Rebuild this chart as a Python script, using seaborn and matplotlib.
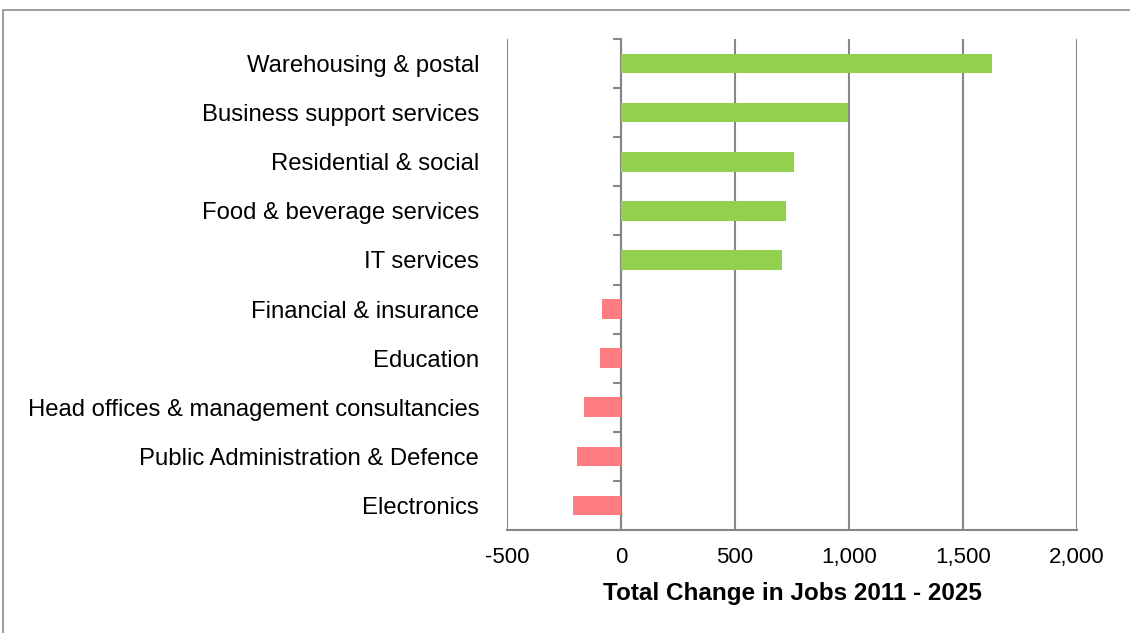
import matplotlib
matplotlib.use("Agg")
import matplotlib.pyplot as plt
from matplotlib.patches import Rectangle
import seaborn as sns
import pandas as pd

# Change in jobs by sector, 2011 - 2025
sectors = [
    "Warehousing & postal",
    "Business support services",
    "Residential & social",
    "Food & beverage services",
    "IT services",
    "Financial & insurance",
    "Education",
    "Head offices & management consultancies",
    "Public Administration & Defence",
    "Electronics",
]
job_change = [1625, 997, 757, 722, 706, -85, -92, -162, -193, -211]

x_ticks = [-500, 0, 500, 1000, 1500, 2000]
x_tick_labels = ["-500", "0", "500", "1,000", "1,500", "2,000"]
x_title = "Total Change in Jobs 2011 - 2025"

GREEN = "#92D050"
RED = "#FF7C80"
GRID = "#868686"

df = pd.DataFrame({"sector": sectors, "change": job_change})
df["direction"] = ["gain" if v >= 0 else "loss" for v in job_change]

sns.set_style("white")
plt.rcParams["font.family"] = ["Liberation Sans", "DejaVu Sans"]
plt.rcParams["text.color"] = "black"
plt.rcParams["xtick.labelcolor"] = "black"
plt.rcParams["ytick.labelcolor"] = "black"
plt.rcParams["axes.labelcolor"] = "black"

fig = plt.figure(figsize=(11.30, 6.33), dpi=100)
ax = fig.add_axes([507 / 1130, 1 - 530 / 633, (1077 - 507) / 1130, (530 - 39) / 633])

sns.barplot(
    data=df, x="change", y="sector", hue="direction",
    palette={"gain": GREEN, "loss": RED}, dodge=False, width=0.4,
    order=sectors, orient="h", legend=False, ax=ax, saturation=1,
    linewidth=0, edgecolor="none",
)

ax.set_xlim(-500, 2000)
ax.set_ylim(len(sectors) - 0.5, -0.5)
ax.set_xticks(x_ticks)
ax.set_xticklabels(x_tick_labels, fontsize=16)
ax.set_xlabel(x_title, fontsize=17.5, fontweight="bold", labelpad=10, color="black")
ax.set_ylabel("")

# vertical gridlines
ax.grid(axis="x", color=GRID, linewidth=1.5)
ax.grid(axis="y", visible=False)
ax.set_axisbelow(True)

for side in ("top", "right", "left"):
    ax.spines[side].set_visible(False)
ax.spines["bottom"].set_color(GRID)
ax.spines["bottom"].set_linewidth(1.5)
ax.tick_params(axis="x", direction="out", length=6, width=1.5, color=GRID,
               pad=6, labelcolor="black")
ax.tick_params(axis="y", length=0, pad=20, labelsize=17.2, labelcolor="black")

# category axis crossing at zero, with tick marks between categories
zero_pos = (0 - x_ticks[0]) / (x_ticks[-1] - x_ticks[0])
cat_axis = ax.secondary_yaxis(zero_pos)
cat_axis.set_yticks([i - 0.5 for i in range(len(sectors) + 1)])
cat_axis.set_yticklabels([])
cat_axis.tick_params(direction="out", length=6, width=1.5, color=GRID)
cat_axis.spines["left"].set_color(GRID)
cat_axis.spines["left"].set_linewidth(1.5)

# chart frame
fig.add_artist(Rectangle((3 / 1130, -0.5), 2.0, 1.5 - 10 / 633,
                         transform=fig.transFigure, fill=False,
                         edgecolor="#8C8C8C", linewidth=1.2))

fig.savefig("out.png", dpi=100)
